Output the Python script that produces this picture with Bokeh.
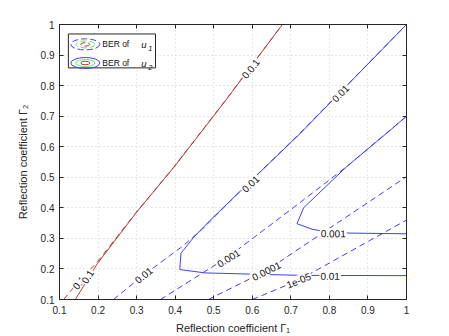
import numpy as np
from bokeh.plotting import figure
from bokeh.models import (Range1d, LinearAxis, FixedTicker, NumeralTickFormatter,
                          CustomJSTickFormatter, ColumnDataSource)
from bokeh.embed import file_html
from bokeh.resources import INLINE
from bokeh.core.properties import value

# ---------------- data ----------------
ticks = [0.1, 0.2, 0.3, 0.4, 0.5, 0.6, 0.7, 0.8, 0.9, 1.0]

# BER of u2 (solid contours)
u2_1e1_x = [0.141, 0.198, 0.297, 0.398, 0.530, 0.678]
u2_1e1_y = [0.100, 0.217, 0.381, 0.535, 0.750, 1.000]
u2_1e2_x = [1.000, 0.724, 0.543, 0.489, 0.447, 0.415, 0.412, 0.478, 0.724, 1.000]
u2_1e2_y = [1.000, 0.643, 0.423, 0.357, 0.302, 0.251, 0.198, 0.187, 0.179, 0.178]
u2_1e3_x = [1.000, 0.957, 0.845, 0.733, 0.716, 0.755, 0.810, 1.000]
u2_1e3_y = [0.700, 0.653, 0.535, 0.400, 0.348, 0.330, 0.318, 0.315]

# BER of u1 (dashed contours)
u1_1e1_x = [0.111, 0.150, 0.195, 0.297, 0.398, 0.530, 0.678]
u1_1e1_y = [0.100, 0.160, 0.218, 0.382, 0.536, 0.751, 1.000]
u1_1e2_x = [0.240, 0.318, 0.420, 0.470, 0.545, 0.724, 1.000]
u1_1e2_y = [0.100, 0.180, 0.275, 0.330, 0.425, 0.645, 1.000]
u1_1e3_x = [0.362, 0.538, 0.706, 0.845, 1.000]
u1_1e3_y = [0.100, 0.240, 0.400, 0.535, 0.700]
u1_1e4_x = [0.486, 0.636, 1.000]
u1_1e4_y = [0.100, 0.194, 0.502]
u1_1e5_x = [0.600, 0.720, 1.000]
u1_1e5_y = [0.100, 0.163, 0.360]

# contour labels: text, x, y, contour they sit on
lab_text = ["0.1", "0.1", "0.1", "0.1", "0.01", "0.01", "0.01", "0.01", "0.001", "0.001", "0.0001", "1e-05"]
lab_x = [0.588, 0.602, 0.150, 0.172, 0.828, 0.595, 0.318, 0.802, 0.538, 0.810, 0.636, 0.720]
lab_y = [0.846, 0.866, 0.155, 0.175, 0.775, 0.479, 0.180, 0.178, 0.236, 0.317, 0.194, 0.163]
lab_on = ["u2_1e1", "u1_1e1", "u1_1e1", "u2_1e1", "u2_1e2", "u2_1e2", "u1_1e2", "u2_1e2",
          "u1_1e3", "u2_1e3", "u1_1e4", "u1_1e5"]

RED = "#b53a35"
BLUE = "#3f3fff"
GREEN = "#6be86b"
INK = "#262626"

contours = {
    "u2_1e1": (u2_1e1_x, u2_1e1_y, RED, "solid"),
    "u2_1e2": (u2_1e2_x, u2_1e2_y, BLUE, "solid"),
    "u2_1e3": (u2_1e3_x, u2_1e3_y, BLUE, "solid"),
    "u1_1e1": (u1_1e1_x, u1_1e1_y, RED, "6 4"),
    "u1_1e2": (u1_1e2_x, u1_1e2_y, BLUE, "6 4"),
    "u1_1e3": (u1_1e3_x, u1_1e3_y, BLUE, "6 4"),
    "u1_1e4": (u1_1e4_x, u1_1e4_y, BLUE, "6 4"),
    "u1_1e5": (u1_1e5_x, u1_1e5_y, BLUE, "6 4"),
}

FW, FH = 347, 275

p = figure(width=441, height=336, x_range=Range1d(0.1, 1.0), y_range=Range1d(0.1, 1.0),
           output_backend="svg", toolbar_location=None,
           min_border_left=59, min_border_right=35, min_border_top=24, min_border_bottom=37)
p.outline_line_color = INK
p.background_fill_color = "white"
p.border_fill_color = "white"

tk = FixedTicker(ticks=ticks)
for ax in (p.xaxis[0], p.yaxis[0]):
    ax.ticker = tk
    ax.formatter = NumeralTickFormatter(format="0.[0]")
    ax.major_tick_in = 4
    ax.major_tick_out = 0
    ax.minor_tick_line_color = None
    ax.axis_line_color = INK
    ax.major_tick_line_color = INK
    ax.major_label_text_font = "Liberation Sans"
    ax.major_label_text_font_size = "10px"
    ax.major_label_text_color = INK
    ax.axis_label_text_font = "Liberation Sans"
    ax.axis_label_text_font_style = "normal"
    ax.axis_label_text_font_size = "11px"
    ax.axis_label_text_color = INK
p.xaxis.major_label_standoff = 6
p.xaxis.axis_label_standoff = 5
p.yaxis.major_label_standoff = 5
p.yaxis.axis_label_standoff = 9
p.xaxis.axis_label = "Reflection coefficient \u0393\u2081"
p.yaxis.axis_label = "Reflection coefficient \u0393\u2082"

for loc in ("above", "right"):
    ax = LinearAxis(ticker=FixedTicker(ticks=ticks), major_tick_in=4, major_tick_out=0,
                    minor_tick_line_color=None, axis_line_color=INK, major_tick_line_color=INK,
                    formatter=CustomJSTickFormatter(code="return ''"),
                    major_label_standoff=0)
    p.add_layout(ax, loc)

for g in (p.xgrid[0], p.ygrid[0]):
    g.ticker = FixedTicker(ticks=ticks)
    g.grid_line_color = "#cfcfcf"
    g.grid_line_dash = "1 3"

for key, (xs, ys, col, dash) in contours.items():
    p.line(xs, ys, line_color=col, line_width=1, line_dash=dash)

# label angles follow the contour they sit on
sx, sy = FW / 0.9, FH / 0.9
angles = []
for t, lx, ly, key in zip(lab_text, lab_x, lab_y, lab_on):
    xs, ys = np.array(contours[key][0]), np.array(contours[key][1])
    best, ang = 1e9, 0.0
    for i in range(len(xs) - 1):
        ax_, ay_ = xs[i] * sx, ys[i] * sy
        bx_, by_ = xs[i + 1] * sx, ys[i + 1] * sy
        px_, py_ = lx * sx, ly * sy
        dx, dy = bx_ - ax_, by_ - ay_
        tt = np.clip(((px_ - ax_) * dx + (py_ - ay_) * dy) / (dx * dx + dy * dy), 0, 1)
        d = np.hypot(ax_ + tt * dx - px_, ay_ + tt * dy - py_)
        if d < best:
            best = d
            a = np.arctan2(dy, dx)
            if a > np.pi / 2:
                a -= np.pi
            if a < -np.pi / 2:
                a += np.pi
            ang = a
    angles.append(ang)

lsrc = ColumnDataSource(dict(x=lab_x, y=lab_y, text=lab_text, angle=angles))
p.text(x="x", y="y", text="text", angle="angle", source=lsrc,
       text_font=value("Liberation Sans"), text_font_size="10px", text_color="#111111",
       text_align="center", text_baseline="middle",
       background_fill_color="white", padding=1)

# ---------------- legend (drawn as in the reference) ----------------
p.quad(left=[0.123], right=[0.349], top=[0.969], bottom=[0.858],
       fill_color="white", line_color=INK, line_width=1)
leg_y = [0.935, 0.874]
leg_dash = ["6 3", "solid"]
for yy, dsh in zip(leg_y, leg_dash):
    for w, h, c in ((29, 11, BLUE), (19, 7, GREEN), (9, 3.5, RED)):
        p.ellipse(x=[0.167], y=[yy], width=[w], height=[h], width_units="screen",
                  height_units="screen", fill_color=None, line_color=c, line_width=1, line_dash=dsh)
p.text(x=[0.211, 0.211], y=leg_y, text=["BER of", "BER of"], text_font=value("Liberation Sans"),
       text_font_size="8.5px", text_color="#111111", text_baseline="middle")
p.text(x=[0.312, 0.312], y=leg_y, text=["u", "u"], text_font=value("Liberation Sans"),
       text_font_style="italic", text_font_size="9.5px", text_color="#111111", text_baseline="middle")
p.text(x=[0.330, 0.330], y=leg_y, text=["1", "2"], text_font=value("Liberation Sans"),
       text_font_style="italic", text_font_size="7.5px", text_color="#111111", text_baseline="middle",
       y_offset=4)

open("out.html", "w").write(file_html(p, INLINE))
